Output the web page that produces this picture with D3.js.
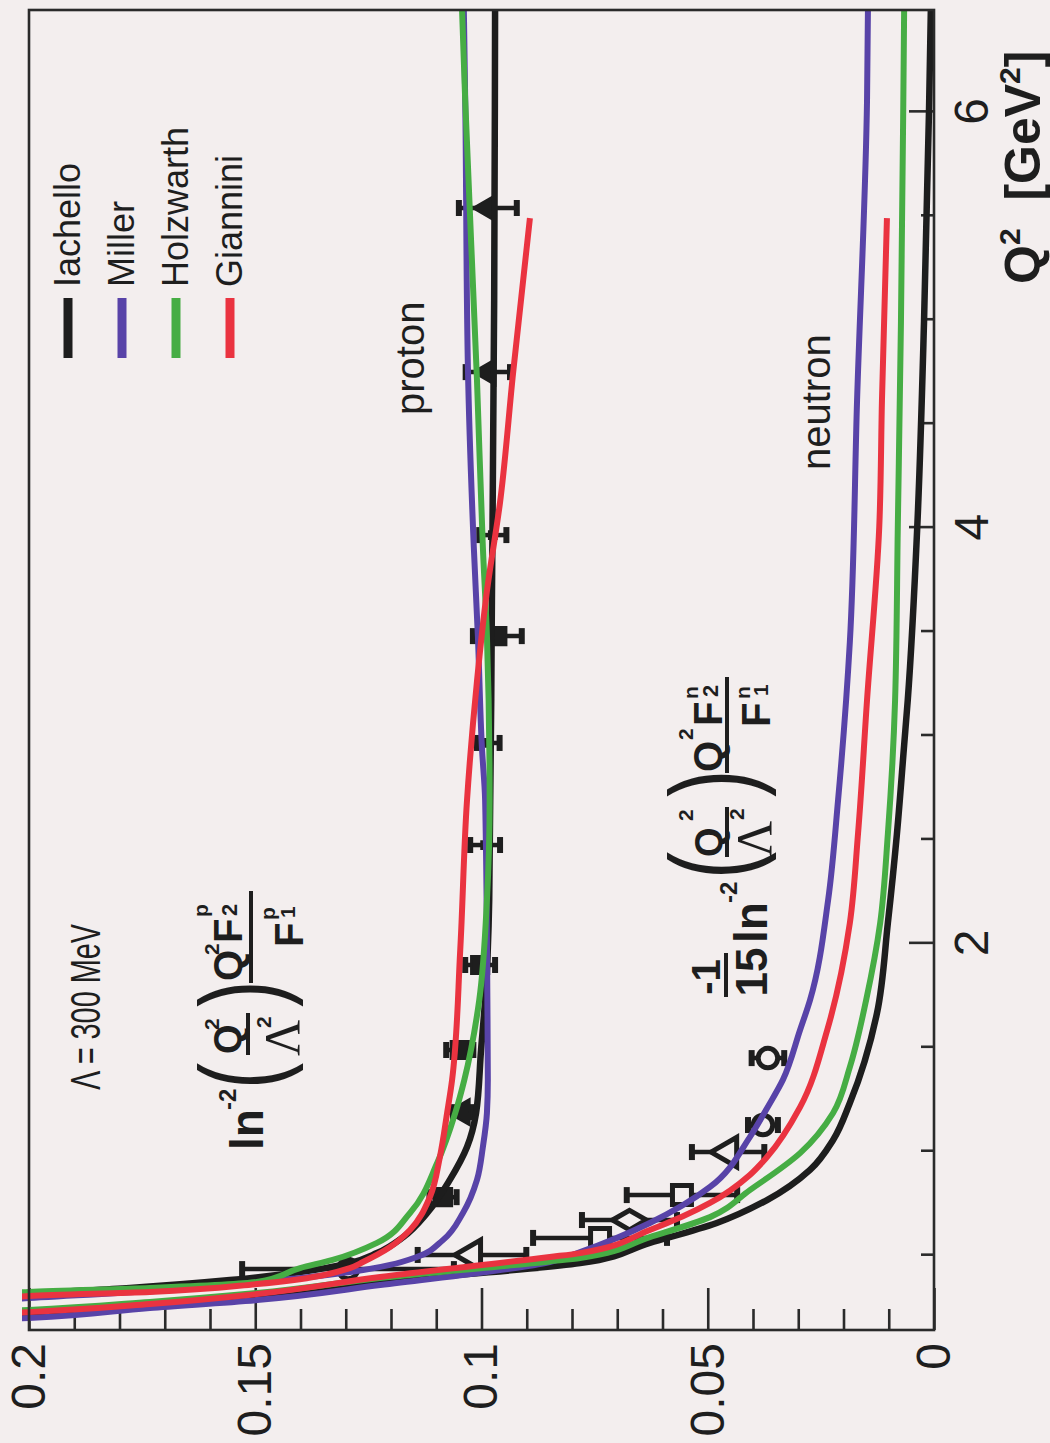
<!DOCTYPE html>
<html>
<head>
<meta charset="utf-8">
<script src="https://cdn.jsdelivr.net/npm/d3@7"></script>
<style>
html, body { margin: 0; padding: 0; background: #f3eeee; }
svg { display: block; }
text { font-family: "Liberation Sans", Arial, Helvetica, sans-serif; fill: #1e1e1e; }
</style>
</head>
<body>
<svg id="chart" width="1050" height="1443"></svg>
<script>
// ---- axes ----
const q2Domain = [0.14, 6.49];
const valueDomain = [0, 0.2];
const q2MajorTicks = [2, 4, 6];
const q2MinorTicks = [0.5, 1, 1.5, 2.5, 3, 3.5, 4.5, 5, 5.5];
const valueMajorTicks = [0, 0.05, 0.1, 0.15, 0.2];
const valueTickLabels = ["0", "0.05", "0.1", "0.15", "0.2"];
const valueMinorTicks = [0.01, 0.02, 0.03, 0.04, 0.06, 0.07, 0.08, 0.09,
                         0.11, 0.12, 0.13, 0.14, 0.16, 0.17, 0.18, 0.19];

// ---- model curves: [Q2 (GeV^2), scaled ratio] ----
const modelNames = ["Iachello", "Miller", "Holzwarth", "Giannini"];

const iachelloProton = [[0.300,0.2060],[0.313,0.2000],[0.342,0.1777],[0.380,0.1556],[0.419,0.1401],
  [0.462,0.1291],[0.510,0.1231],[0.587,0.1173],[0.703,0.1120],[0.862,0.1070],[1.020,0.1032],
  [1.184,0.1012],[1.487,0.1001],[1.727,0.0992],[2.208,0.0983],[3.651,0.0977],[5.094,0.0972],[6.490,0.0970]];
const millerProton = [[0.284,0.2060],[0.294,0.2000],[0.332,0.1688],[0.380,0.1445],[0.419,0.1291],
  [0.453,0.1202],[0.491,0.1143],[0.573,0.1085],[0.703,0.1041],[0.862,0.1010],[1.020,0.0997],
  [1.184,0.0988],[1.343,0.0986],[1.727,0.0987],[2.689,0.0992],[2.939,0.0999],[3.478,0.1008],
  [3.906,0.1017],[4.767,0.1030],[6.056,0.1036],[6.490,0.1039]];
const holzwarthProton = [[0.315,0.2060],[0.323,0.2000],[0.342,0.1733],[0.371,0.1496],[0.438,0.1401],
  [0.477,0.1329],[0.559,0.1231],[0.703,0.1158],[0.943,0.1098],[1.184,0.1058],[1.343,0.1038],
  [1.727,0.1005],[2.208,0.0988],[2.689,0.0982],[3.478,0.0988],[3.906,0.0997],[4.709,0.1010],
  [6.056,0.1036],[6.490,0.1043]];
const gianniniProton = [[0.295,0.2060],[0.303,0.2000],[0.323,0.1733],[0.361,0.1496],[0.438,0.1291],
  [0.467,0.1262],[0.539,0.1202],[0.621,0.1158],[0.780,0.1114],[0.972,0.1092],[1.184,0.1076],
  [1.343,0.1065],[1.968,0.1047],[2.689,0.1032],[3.261,0.1010],[3.694,0.0988],[4.122,0.0959],
  [4.748,0.0930],[5.489,0.0893]];

const iachelloNeutron = [[0.212,0.2050],[0.217,0.2000],[0.260,0.1733],[0.304,0.1496],[0.371,0.1224],
  [0.462,0.0782],[0.559,0.0628],[0.655,0.0480],[0.765,0.0369],[0.910,0.0274],[1.054,0.0223],
  [1.232,0.0186],[1.664,0.0126],[2.097,0.0102],[2.525,0.0082],[2.953,0.0066],[3.170,0.0058],
  [4.002,0.0037],[4.993,0.0022],[6.008,0.0011],[6.490,0.0007]];
const millerNeutron = [[0.193,0.2050],[0.198,0.2000],[0.246,0.1733],[0.284,0.1496],[0.356,0.1224],
  [0.467,0.0849],[0.515,0.0782],[0.655,0.0628],[0.828,0.0495],[1.068,0.0407],[1.207,0.0369],
  [1.343,0.0334],[1.583,0.0296],[1.727,0.0274],[2.208,0.0234],[2.689,0.0212],[3.449,0.0186],
  [4.613,0.0170],[6.056,0.0148],[6.490,0.0146]];
const holzwarthNeutron = [[0.231,0.2050],[0.236,0.2000],[0.275,0.1733],[0.318,0.1496],[0.390,0.1224],
  [0.470,0.0849],[0.486,0.0782],[0.587,0.0628],[0.683,0.0495],[0.813,0.0407],
  [0.991,0.0296],[1.184,0.0223],[1.405,0.0186],[1.727,0.0150],[2.097,0.0119],[2.525,0.0102],
  [3.170,0.0086],[4.002,0.0080],[4.993,0.0073],[6.008,0.0068],[6.490,0.0066]];
const gianniniNeutron = [[0.221,0.2050],[0.226,0.2000],[0.265,0.1733],[0.313,0.1496],[0.395,0.1224],
  [0.491,0.0849],[0.510,0.0782],[0.621,0.0628],[0.751,0.0495],[0.886,0.0407],[0.972,0.0369],
  [1.212,0.0296],[1.583,0.0236],[2.097,0.0186],[2.525,0.0168],[3.170,0.0148],[4.002,0.0121],
  [4.613,0.0115],[5.489,0.0104]];

// ---- measurements: [Q2, value, error] ----
const protonFilledTriangles = [[5.537,0.0986,0.0064],[4.748,0.0986,0.0049],[1.188,0.1043,0.0020]];
const protonFilledSquares = [[3.478,0.0965,0.0054],[1.896,0.1003,0.0033],[1.487,0.1048,0.0030],[0.779,0.1085,0.0030]];
const protonSmallPoints = [[3.964,0.0975,0.0030],[2.964,0.0985,0.0025],[2.473,0.0992,0.0033]];
const protonOpenTriangles = [[0.501,0.1021,0.0120]];
const protonOpenCircles = [[0.433,0.1295,0.0234]];
const neutronCircles = [[1.448,0.0367,0.0036],[1.126,0.0378,0.0033]];
const neutronTriangles = [[0.996,0.0455,0.0080]];
const neutronSquares = [[0.789,0.0557,0.0122],[0.583,0.0738,0.0148]];
const neutronDiamonds = [[0.669,0.0673,0.0105]];

// ---- layout (drawn upright, then turned a quarter turn) ----
const W = 1443, H = 1050;
const margin = { left: 113, right: 10, top: 29, bottom: 116 };
const colors = { Iachello: "#1d1d1d", Miller: "#5843a8", Holzwarth: "#46ad44", Giannini: "#ea3340" };
const ink = "#2a2a2a";

const svg = d3.select("#chart");
svg.append("rect").attr("width", 1050).attr("height", 1443).attr("fill", "#f3eeee");

const root = svg.append("g").attr("transform", `translate(0,${W}) rotate(-90)`);

const x = d3.scaleLinear().domain(q2Domain).range([margin.left, W - margin.right]);
const y = d3.scaleLinear().domain(valueDomain).range([H - margin.bottom, margin.top]);

root.append("clipPath").attr("id", "plotClip")
  .append("rect")
  .attr("x", margin.left).attr("y", margin.top - 7)
  .attr("width", W - margin.left - margin.right)
  .attr("height", H - margin.top - margin.bottom + 7);

// ---- axes ----
function styleAxis(g) {
  g.select(".domain").remove();
  g.selectAll(".tick line").attr("stroke", ink).attr("stroke-width", 2.6);
  g.selectAll(".tick text").attr("fill", "#1e1e1e").style("font-size", "48px")
    .style("font-family", '"Liberation Sans", Arial, sans-serif');
}

root.append("g").attr("transform", `translate(${margin.left},0)`)
  .call(d3.axisLeft(y).tickValues(valueMinorTicks).tickSize(-21).tickFormat(""))
  .call(styleAxis);
root.append("g").attr("transform", `translate(${margin.left},0)`)
  .call(d3.axisLeft(y).tickValues(valueMajorTicks).tickSize(-42).tickPadding(13)
    .tickFormat((d, i) => valueTickLabels[i]))
  .call(styleAxis);

const xAxisY = H - margin.bottom;
root.append("g").attr("transform", `translate(0,${xAxisY})`)
  .call(d3.axisBottom(x).tickValues(q2MinorTicks).tickSize(-13).tickFormat(""))
  .call(styleAxis);
root.append("g").attr("transform", `translate(0,${xAxisY})`)
  .call(d3.axisBottom(x).tickValues(q2MajorTicks).tickSize(-25).tickPadding(20).tickFormat(d3.format("d")))
  .call(styleAxis);

// axis title
const xTitle = root.append("text")
  .attr("x", 1159).attr("y", 1040)
  .style("font-size", "50px").style("font-weight", "bold");
xTitle.append("tspan").text("Q");
xTitle.append("tspan").attr("dy", -20).style("font-size", "30px").text("2");
xTitle.append("tspan").attr("dy", 20).text("\u00a0\u00a0[GeV");
xTitle.append("tspan").attr("dy", -20).style("font-size", "30px").text("2");
xTitle.append("tspan").attr("dy", 20).text("]");

// ---- measurements (under the curves) ----
const markers = root.append("g").attr("clip-path", "url(#plotClip)");

function errorBars(data) {
  const g = markers.append("g").attr("stroke", "#1e1e1e");
  g.selectAll("line.bar").data(data).join("line")
    .attr("x1", d => x(d[0])).attr("x2", d => x(d[0]))
    .attr("y1", d => y(d[1] - d[2])).attr("y2", d => y(d[1] + d[2]))
    .attr("stroke-width", 4.5);
  [-1, 1].forEach(s => {
    g.selectAll(null).data(data).join("line")
      .attr("x1", d => x(d[0]) - 8).attr("x2", d => x(d[0]) + 8)
      .attr("y1", d => y(d[1] + s * d[2])).attr("y2", d => y(d[1] + s * d[2]))
      .attr("stroke-width", 6);
  });
}

function symbols(data, type, size, filled) {
  markers.append("g").selectAll("path").data(data).join("path")
    .attr("transform", d => `translate(${x(d[0])},${y(d[1])})`)
    .attr("d", d3.symbol().type(type).size(size))
    .attr("fill", filled ? "#1e1e1e" : "#f3eeee")
    .attr("stroke", "#1e1e1e")
    .attr("stroke-width", filled ? 2 : 5);
}

const allPoints = [protonFilledTriangles, protonFilledSquares, protonSmallPoints, protonOpenTriangles,
  protonOpenCircles, neutronCircles, neutronTriangles, neutronSquares, neutronDiamonds];
allPoints.forEach(errorBars);

symbols(protonFilledTriangles, d3.symbolTriangle, 300, true);
symbols(protonFilledSquares, d3.symbolSquare, 330, true);
symbols(protonSmallPoints, d3.symbolSquare, 60, true);
symbols(protonOpenTriangles, d3.symbolTriangle, 380, false);
symbols(protonOpenCircles, d3.symbolCircle, 300, false);
symbols(neutronCircles, d3.symbolCircle, 300, false);
symbols(neutronTriangles, d3.symbolTriangle, 380, false);
symbols(neutronSquares, d3.symbolSquare, 360, false);
symbols(neutronDiamonds, d3.symbolDiamond, 330, false);

// ---- model curves ----
const line = d3.line().x(d => x(d[0])).y(d => y(d[1])).curve(d3.curveMonotoneX);
const curves = [
  { model: "Iachello", data: iachelloProton }, { model: "Iachello", data: iachelloNeutron },
  { model: "Miller", data: millerProton }, { model: "Miller", data: millerNeutron },
  { model: "Holzwarth", data: holzwarthProton }, { model: "Holzwarth", data: holzwarthNeutron },
  { model: "Giannini", data: gianniniProton }, { model: "Giannini", data: gianniniNeutron }
];
root.append("g").attr("clip-path", "url(#plotClip)")
  .selectAll("path").data(curves).join("path")
  .attr("d", d => line(d.data))
  .attr("fill", "none")
  .attr("stroke", d => colors[d.model])
  .attr("stroke-width", d => d.model === "Iachello" ? 6.5 : 6)
  .attr("stroke-linecap", "butt");

// ---- frame ----
root.append("rect")
  .attr("x", margin.left).attr("y", margin.top)
  .attr("width", W - margin.left - margin.right)
  .attr("height", H - margin.top - margin.bottom)
  .attr("fill", "none").attr("stroke", ink).attr("stroke-width", 2.6);

// ---- legend ----
const legend = root.append("g");
modelNames.forEach((name, i) => {
  const v = 68 + i * 54;
  legend.append("line").attr("x1", 1085).attr("x2", 1145).attr("y1", v).attr("y2", v)
    .attr("stroke", colors[name]).attr("stroke-width", 9);
  legend.append("text").attr("x", 1156).attr("y", v + 12).style("font-size", "36px").text(name);
});

// ---- annotations ----
root.append("text").attr("x", 353).attr("y", 100)
  .attr("textLength", 166).attr("lengthAdjust", "spacingAndGlyphs")
  .style("font-size", "43px").text("\u039b = 300 MeV");
root.append("text").attr("x", 1028).attr("y", 424).style("font-size", "40px").text("proton");
root.append("text").attr("x", 973).attr("y", 830).style("font-size", "40px").text("neutron");

const ann = root.append("g");
function put(str, u, v, size, opts = {}) {
  const t = ann.append("text").attr("x", u).attr("y", v)
    .style("font-size", size + "px")
    .style("font-weight", opts.weight || "bold")
    .attr("text-anchor", opts.anchor || "start")
    .text(str);
  if (opts.serif) t.style("font-family", '"Liberation Serif", "DejaVu Serif", serif');
  return t;
}
function paren(str, u, vBottom, height) {
  const size = height / 0.94;
  ann.append("text")
    .attr("transform", `translate(${u},${vBottom - 0.21 * size}) scale(0.7,1)`)
    .style("font-size", size + "px").style("font-weight", "normal").text(str);
}
function bar(u1, u2, v) {
  ann.append("line").attr("x1", u1).attr("x2", u2).attr("y1", v).attr("y2", v)
    .attr("stroke", "#1e1e1e").attr("stroke-width", 4);
}

// proton combination
put("ln", 293, 263, 46);
put("-2", 333, 236, 24);
paren("(", 354, 303, 106);
put("Q", 389, 241, 38);
put("2", 413, 219, 21);
bar(388, 430, 248);
put("\u039b", 387, 299, 50, { weight: "normal", serif: true });
put("2", 415, 271, 21);
paren(")", 436, 303, 106);
put("Q", 462, 242, 40);
put("2", 488, 219, 21);
put("F", 500, 242, 40);
put("p", 526, 208, 21);
put("2", 527, 237, 22);
bar(460, 552, 251);
put("F", 496, 303, 40);
put("p", 523, 275, 21);
put("1", 525, 295, 21);

// neutron combination
put("-1", 466, 720, 40, { anchor: "middle" });
bar(446, 490, 726);
put("15", 471, 767, 44, { anchor: "middle" });
put("ln", 500, 767, 46);
put("-2", 540, 737, 24);
paren("(", 564, 777, 110);
put("Q", 586, 722, 38);
put("2", 622, 693, 21);
bar(586, 636, 727);
put("\u039b", 586, 771, 50, { weight: "normal", serif: true });
put("2", 623, 744, 21);
paren(")", 646, 777, 110);
put("Q", 671, 722, 40);
put("2", 703, 693, 21);
put("F", 717, 722, 40);
put("n", 744, 698, 21);
put("2", 746, 718, 22);
bar(670, 766, 727);
put("F", 716, 770, 40);
put("n", 744, 750, 21);
put("1", 747, 768, 21);
</script>
</body>
</html>
